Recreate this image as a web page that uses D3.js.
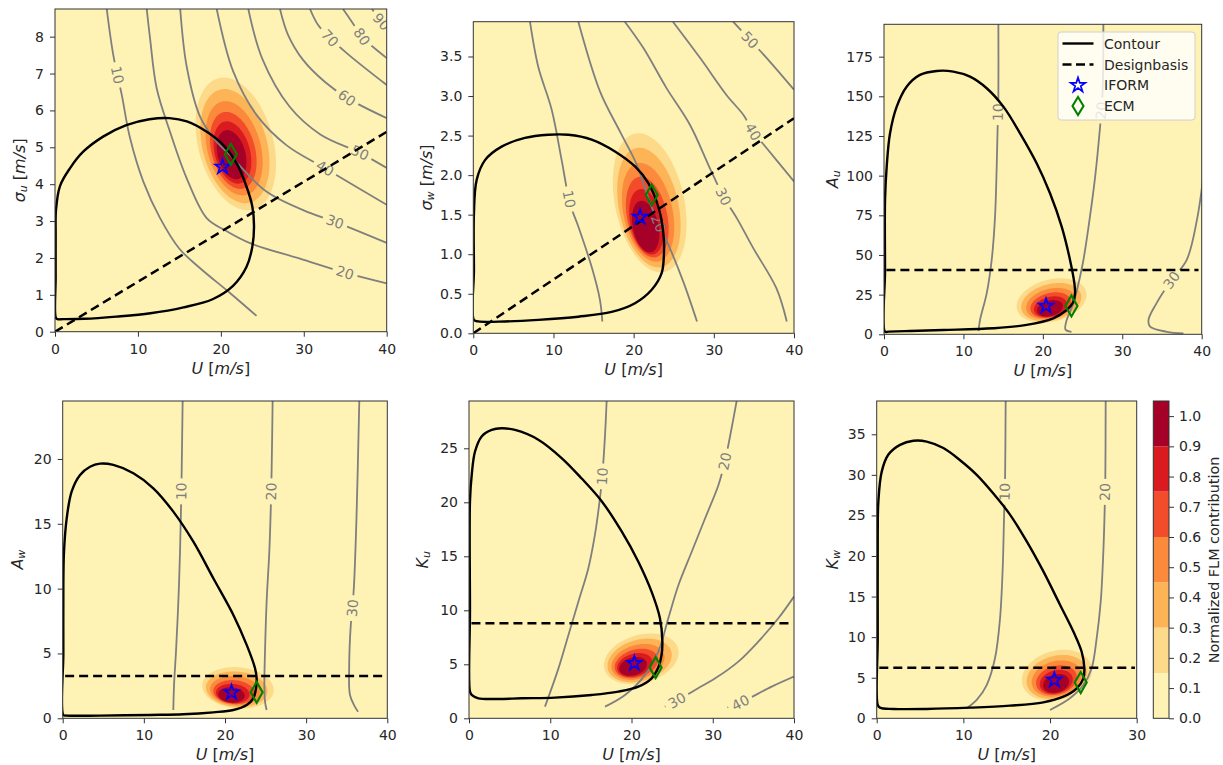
<!DOCTYPE html>
<html><head><meta charset="utf-8">
<script src="https://cdn.jsdelivr.net/npm/d3@7"></script>
<style>
body{margin:0;background:#fff}
text{font-family:"DejaVu Sans",sans-serif}
</style></head>
<body><svg id="c" width="1223" height="765"></svg>
<script>
// ---------------- DATA ----------------
const flmBounds = [0, 0.15, 0.3, 0.45, 0.6, 0.75, 0.9, 1.05];
const flmColors = ["#fef3b5", "#fdd98a", "#fdb456", "#fc8a3c", "#f24c2a", "#d91b20", "#a50027"];
const flmScale = [1, 0.86, 0.71, 0.58, 0.47, 0.37];   // relative size of each filled level
const cbTicks = [0, 0.1, 0.2, 0.3, 0.4, 0.5, 0.6, 0.7, 0.8, 0.9, 1.0];

const xTicks40 = [0, 10, 20, 30, 40];
const xTicks30 = [0, 10, 20, 30];
const yTicksSigU = [0, 1, 2, 3, 4, 5, 6, 7, 8];
const yTicksSigW = [0, 0.5, 1.0, 1.5, 2.0, 2.5, 3.0, 3.5];
const yTicksAu = [0, 25, 50, 75, 100, 125, 150, 175];
const yTicksAw = [0, 5, 10, 15, 20];
const yTicksKu = [0, 5, 10, 15, 20, 25];
const yTicksKw = [0, 5, 10, 15, 20, 25, 30, 35];

const legendLabels = ["Contour", "Designbasis", "IFORM", "ECM"];

// environmental contours [U, param]
const contourSigU = [[0.1,0.38],[0.08,1.5],[0.08,2.6],[0.12,3.3],[0.6,3.95],[1.8,4.43],[3.4,4.88],[5.8,5.29],[8.6,5.6],[11.4,5.76],[13.8,5.79],[15.9,5.70],[18.3,5.42],[20.3,5.06],[21.9,4.57],[23.1,3.93],[23.8,3.39],[24.0,2.85],[23.8,2.31],[23.1,1.76],[21.5,1.25],[19.0,0.88],[15.5,0.66],[11.5,0.5],[7.4,0.41],[3.5,0.35],[1.0,0.34],[0.3,0.34]];
const contourSigW = [[0.08,0.17],[0.08,0.8],[0.08,1.52],[0.42,1.94],[1.46,2.19],[3.53,2.36],[6.44,2.47],[9.36,2.51],[11.85,2.51],[14.76,2.45],[17.67,2.30],[20.17,2.11],[21.83,1.90],[23.08,1.60],[23.7,1.27],[23.78,1.01],[23.49,0.76],[22.25,0.55],[20.17,0.38],[17.26,0.27],[13.1,0.21],[8.1,0.17],[3.95,0.15],[0.62,0.15]];
const contourAu = [[0.13,1.7],[0.13,40],[0.13,84.7],[0.34,105.7],[0.76,126.7],[1.6,143.5],[2.85,156.1],[4.53,163.5],[6.63,166],[8.73,165.6],[10.83,162.4],[12.93,155.1],[15.03,143.5],[17.13,126.7],[19.22,107.8],[20.9,88.9],[22.37,67.9],[23.42,46.9],[23.97,32.1],[24.05,25.8],[23.8,20],[23.0,15.3],[21.3,10.1],[17.96,5.9],[13.77,3.8],[7.47,2.7],[3.27,2.1],[0.6,1.7]];
const contourAw = [[0.08,0.26],[0.08,5],[0.08,10.3],[0.16,12.85],[0.49,15.4],[1.11,17.5],[2.14,18.77],[3.37,19.4],[4.6,19.64],[6.24,19.54],[8.71,18.9],[11.17,17.74],[13.63,15.94],[16.1,13.62],[18.56,10.8],[21.03,7.97],[22.67,5.66],[23.7,3.86],[23.9,3.08],[23.82,2.31],[23.49,1.54],[22.67,1.03],[21.03,0.64],[18.56,0.46],[14.87,0.31],[10.76,0.26],[4.6,0.21],[0.49,0.21]];
const contourKu = [[0.12,2.47],[0.12,10],[0.12,20.1],[0.33,22.5],[0.74,24.7],[1.56,26.1],[2.79,26.7],[4.0,26.85],[5.66,26.7],[8.53,25.8],[11.4,24.1],[13.87,22.2],[16.33,20.1],[18.79,17.3],[20.84,14.5],[22.48,11.7],[23.5,9.26],[23.8,7.1],[23.7,5.86],[23.3,4.7],[22.48,3.7],[20.84,2.93],[18.38,2.47],[15.1,2.16],[10.58,1.91],[6.48,1.85],[3.6,1.79],[1.15,1.85],[0.33,2.16]];
const contourKw = [[0.12,1.64],[0.12,10],[0.12,22.6],[0.19,26.7],[0.58,30.4],[1.35,32.5],[2.69,33.7],[4.23,34.2],[5.77,34.1],[7.69,33.3],[9.62,31.8],[11.54,30.0],[13.46,27.7],[15.38,25.1],[17.31,21.8],[19.23,18.1],[21.15,14.0],[22.69,10.7],[23.65,8.2],[23.96,6.16],[23.85,4.93],[23.08,3.7],[21.54,2.67],[19.23,1.97],[15.38,1.56],[10.77,1.31],[5.77,1.15],[1.92,1.15],[0.38,1.31]];

// design basis lines
const designSigU = [[0, 0], [40, 5.42]];
const designSigW = [[0, 0], [40, 2.72]];
const designAu = [[0.3, 40.6], [39.6, 40.6]];
const designAw = [[0.3, 3.26], [39.6, 3.26]];
const designKu = [[0.3, 8.8], [39.6, 8.8]];
const designKw = [[0.3, 6.24], [29.8, 6.24]];

// IFORM and ECM design points (panels in order)
const iformPts = [[20.2, 4.47], [20.8, 1.47], [20.4, 17.9], [20.8, 2.0], [20.35, 5.1], [20.5, 4.72]];
const ecmPts = [[21.2, 4.81], [22.25, 1.75], [23.6, 17.9], [23.9, 2.0], [22.97, 4.7], [23.54, 4.4]];

// FLM contribution blobs: outer [U, y, halfU, halfY, tilt], core [U, y]
const flmSigU = {outer: [21.8, 5.09, 4.85, 1.8, -0.3], core: [21.3, 4.8]};
const flmSigW = {outer: [22.0, 1.65, 4.6, 0.88, -0.3], core: [21.5, 1.35]};
const flmAu = {outer: [21.1, 21.3, 4.4, 14, 0.26], core: [20.9, 16.4]};
const flmAw = {outer: [21.6, 2.35, 4.4, 1.6, -0.1], core: [20.8, 1.8]};
const flmKu = {outer: [21.2, 5.5, 4.6, 2.35, 0.25], core: [20.2, 4.8]};
const flmKw = {outer: [20.8, 5.3, 4.05, 3.15, 0.2], core: [20.7, 4.3]};

// response iso-lines
const isoSigU = [
 {level:10, at:[7.44,6.96], pts:[[6.24,8.75],[7.03,7.50],[8.05,6.42],[9.05,5.25],[10.65,4.07],[12.67,3.08],[15.0,2.25],[17.5,1.72],[21.1,1.05],[24.3,0.43]]},
 {level:20, at:[34.97,1.6], pts:[[11.06,8.75],[11.46,7.96],[12.26,6.6],[13.87,5.42],[15.88,4.16],[18.29,3.08],[20.5,2.75],[23.52,2.4],[29.54,1.98],[34.97,1.6],[40,1.31]]},
 {level:30, at:[33.77,2.98], pts:[[15.1,8.75],[15.88,7.19],[17.49,5.83],[19.3,5.2],[21.1,4.79],[25.5,3.8],[30.75,3.22],[33.77,2.98],[40,2.41]]},
 {level:40, at:[32.56,4.43], pts:[[19.5,8.75],[21.5,7.05],[24.3,5.88],[27.9,5.06],[32.56,4.43],[40,3.44]]},
 {level:50, at:[36.78,4.85], pts:[[23.31,8.75],[25.0,7.4],[28.3,6.1],[32.0,5.35],[36.78,4.85],[40,4.44]]},
 {level:60, at:[35.17,6.33], pts:[[27.13,8.75],[28.1,8.05],[29.91,7.37],[32.56,6.77],[35.21,6.34],[40,5.79]]},
 {level:70, at:[33.16,7.96], pts:[[30.75,8.75],[31.71,8.32],[33.16,7.96],[35.57,7.48],[40,6.69]]},
 {level:80, at:[37.0,8.0], pts:[[34.73,8.75],[35.81,8.4],[37.02,8.0],[40,7.42]]},
 {level:90, at:[39.4,8.41], pts:[[38.23,8.75],[39.19,8.45],[40,8.24]]}
];
const isoSigW = [
 {level:10, at:[12.06,1.7], pts:[[7.07,3.94],[8.1,3.37],[9.77,2.83],[11.02,2.19],[12.06,1.64],[13.1,1.35],[14.76,0.84],[15.8,0.42],[16.09,0.15]]},
 {level:20, at:[23.1,1.39], pts:[[13.1,3.94],[15.8,3.06],[18.3,2.55],[20.4,2.13],[22.0,1.66],[23.1,1.39],[24.5,1.08],[26.2,0.65],[27.9,0.15]]},
 {level:30, at:[31.2,1.73], pts:[[18.9,3.94],[21.2,3.61],[24.1,3.10],[27.0,2.64],[29.5,2.09],[31.2,1.73],[32.9,1.45],[34.9,1.08],[37.8,0.57],[39.1,0.15]]},
 {level:40, at:[34.9,2.55], pts:[[24.9,3.94],[28.3,3.48],[31.6,3.01],[33.7,2.76],[34.9,2.55],[36.6,2.34],[40,1.92]]},
 {level:50, at:[34.5,3.71], pts:[[32.4,3.94],[34.5,3.71],[36.6,3.48],[40,3.08]]}
];
const isoAu = [
 {level:10, at:[14.4,140], pts:[[14.4,195.4],[14.4,149.8],[14.31,130.9],[14.19,105.7],[13.98,74.2],[13.56,46.9],[12.93,25.8],[12.09,9.0],[11.9,2.0]]},
 {level:20, at:[27.4,141], pts:[[27.62,195.4],[27.5,150],[27.1,125],[26.6,100],[25.9,73],[25.0,44],[23.8,19],[23.0,9],[22.85,3],[23.6,1.5]]},
 {level:30, at:[36.2,34.2], pts:[[40.2,99.4],[39.4,72.1],[38.1,46.8],[36.2,34.2],[34.3,19.5],[33.3,9.0],[33.5,4.8],[35.6,1.6],[37.7,0.6]]}
];
const isoAw = [
 {level:10, at:[14.62,17.5], pts:[[14.78,24.47],[14.66,19.0],[14.58,16.2],[14.46,12.85],[14.25,9.0],[13.96,5.14],[13.72,2.57],[13.63,0.64]]},
 {level:20, at:[25.7,17.5], pts:[[25.87,24.47],[25.75,19.28],[25.63,15.94],[25.46,12.85],[25.13,9.0],[24.93,5.14],[24.85,2.57],[24.93,1.29],[25.13,0.64]]},
 {level:30, at:[35.7,8.5], pts:[[36.55,24.47],[36.2,15.4],[35.9,10.3],[35.7,8.5],[35.5,7.2],[35.3,3.86],[35.4,1.8],[36.0,0.9],[36.4,0.5]]}
];
const isoKu = [
 {level:10, at:[16.4,22.4], pts:[[16.94,29.38],[16.74,26.2],[16.4,22.4],[16.12,20.4],[15.5,17.0],[14.69,13.9],[13.46,10.8],[12.23,7.7],[11.0,4.6],[9.35,1.08]]},
 {level:20, at:[31.5,23.8], pts:[[32.94,29.38],[32.33,26.9],[31.5,23.8],[30.7,21.6],[29.05,18.5],[27.4,15.4],[25.76,12.3],[24.53,9.26],[23.3,6.17],[21.66,4.0],[19.2,2.16],[16.74,1.08]]},
 {level:30, at:[25.6,1.65], pts:[[40,11.27],[38.07,9.26],[35.6,7.1],[33.15,5.25],[30.3,3.7],[28.2,2.78],[25.6,1.65],[24.1,1.08]]},
 {level:40, at:[33.4,1.45], pts:[[40,3.86],[37.25,2.93],[33.4,1.45],[31.8,1.0]]}
];
const isoKw = [
 {level:10, at:[14.8,27.9], pts:[[14.88,39.1],[14.81,29.2],[14.75,27.0],[14.69,24.65],[14.54,18.5],[14.23,12.3],[13.65,7.4],[12.69,4.1],[11.54,2.26],[10.38,1.23]]},
 {level:20, at:[26.4,27.9], pts:[[26.42,39.1],[26.38,29.6],[26.3,25.5],[26.15,20.5],[25.85,14.4],[25.38,9.86],[24.8,6.16],[23.85,4.1],[22.3,2.47],[20.0,1.03]]}
];

// ---------------- LAYOUT ----------------
const W = 1223, H = 765;
const panels = [
 {box:[55,386.7,9,331.7], xMax:40, yMax:8.75, xt:xTicks40, yt:yTicksSigU, yf:"d", sym:"σ", sub:"u", unit:true, ylx:19,
  contour:contourSigU, design:designSigU, flm:flmSigU, iso:isoSigU},
 {box:[473.3,794,21.7,333.3], xMax:40, yMax:3.94, xt:xTicks40, yt:yTicksSigW, yf:".1f", sym:"σ", sub:"w", unit:true, ylx:426,
  contour:contourSigW, design:designSigW, flm:flmSigW, iso:isoSigW},
 {box:[884,1201.7,24.3,334.3], xMax:40, yMax:195.4, xt:xTicks40, yt:yTicksAu, yf:"d", sym:"A", sub:"u", unit:false, ylx:832,
  contour:contourAu, design:designAu, flm:flmAu, iso:isoAu},
 {box:[62.7,387.3,401,718.3], xMax:40, yMax:24.47, xt:xTicks40, yt:yTicksAw, yf:"d", sym:"A", sub:"w", unit:false, ylx:17,
  contour:contourAw, design:designAw, flm:flmAw, iso:isoAw},
 {box:[469,794,401,718.3], xMax:40, yMax:29.38, xt:xTicks40, yt:yTicksKu, yf:"d", sym:"K", sub:"u", unit:false, ylx:422,
  contour:contourKu, design:designKu, flm:flmKu, iso:isoKu},
 {box:[876.7,1136.7,401,718.3], xMax:30, yMax:39.1, xt:xTicks30, yt:yTicksKw, yf:"d", sym:"K", sub:"w", unit:false, ylx:832,
  contour:contourKw, design:designKw, flm:flmKw, iso:isoKw}
];

const svg = d3.select("#c");
const defs = svg.append("defs");
const TXT = "#262626", SPINE = "#333";
const DASH = "9,5";

const starPath = d3.symbol(d3.symbolStar, 66)();
function diamondPath(w, h){ return `M0,${-h}L${w},0L0,${h}L${-w},0Z`; }

function styleAxis(g){
  g.select(".domain").remove();
  g.selectAll("line").attr("stroke", SPINE).attr("stroke-width", 1);
  g.selectAll("text").attr("fill", TXT).attr("font-size", 14).attr("font-family", "DejaVu Sans");
}

panels.forEach((P, idx) => {
  const [x0, x1, y0, y1] = P.box;
  const x = d3.scaleLinear().domain([0, P.xMax]).range([x0, x1]);
  const y = d3.scaleLinear().domain([0, P.yMax]).range([y1, y0]);
  const line = d3.line().x(d => x(d[0])).y(d => y(d[1]));

  defs.append("clipPath").attr("id", "clip" + idx).append("rect")
    .attr("x", x0).attr("y", y0).attr("width", x1 - x0).attr("height", y1 - y0);
  const g = svg.append("g").attr("clip-path", `url(#clip${idx})`);

  // background = lowest FLM level
  g.append("rect").attr("x", x0).attr("y", y0).attr("width", x1 - x0).attr("height", y1 - y0).attr("fill", flmColors[0]);

  // FLM filled levels
  const [cu, cv, ru, rv, rho] = P.flm.outer, [ku, kv] = P.flm.core;
  flmScale.forEach((s, i) => {
    const f = i / (flmScale.length - 1);
    const mu = cu + (ku - cu) * f, mv = cv + (kv - cv) * f;
    const pts = d3.range(96).map(k => {
      const t = k / 96 * 2 * Math.PI;
      return [mu + ru * s * Math.cos(t), mv + rv * s * (rho * Math.cos(t) + Math.sqrt(1 - rho * rho) * Math.sin(t))];
    });
    g.append("path").attr("d", line.curve(d3.curveLinearClosed)(pts)).attr("fill", flmColors[i + 1]);
  });

  // iso-lines with inline labels
  const mask = defs.append("mask").attr("id", "mask" + idx).attr("maskUnits", "userSpaceOnUse")
    .attr("x", 0).attr("y", 0).attr("width", W).attr("height", H);
  mask.append("rect").attr("width", W).attr("height", H).attr("fill", "white");
  const isoG = g.append("g");
  const linesG = isoG.append("g").attr("mask", `url(#mask${idx})`);
  P.iso.forEach(l => {
    linesG.append("path").attr("d", line.curve(d3.curveCatmullRom.alpha(0.5))(l.pts))
      .attr("fill", "none").attr("stroke", "#7f7f7f").attr("stroke-width", 1.8);
    const lx = x(l.at[0]), ly = y(l.at[1]);
    let best = Infinity, px = lx, py = ly, ang = 0;
    for (let i = 0; i < l.pts.length - 1; i++) {
      const ax = x(l.pts[i][0]), ay = y(l.pts[i][1]), bx = x(l.pts[i + 1][0]), by = y(l.pts[i + 1][1]);
      const dx = bx - ax, dy = by - ay, L2 = dx * dx + dy * dy || 1;
      let t = ((lx - ax) * dx + (ly - ay) * dy) / L2; t = Math.max(0, Math.min(1, t));
      const qx = ax + t * dx, qy = ay + t * dy, d2 = (qx - lx) ** 2 + (qy - ly) ** 2;
      if (d2 < best) { best = d2; px = qx; py = qy; ang = Math.atan2(dy, dx) * 180 / Math.PI; }
    }
    if (ang > 90) ang -= 180; if (ang <= -90) ang += 180;
    const tr = `translate(${px},${py}) rotate(${ang})`;
    const t = isoG.append("text").attr("transform", tr).attr("text-anchor", "middle")
      .attr("dominant-baseline", "central").attr("font-size", 14).attr("fill", "#7f7f7f").text(l.level);
    const w = t.node().getComputedTextLength();
    mask.append("rect").attr("x", -w / 2 - 4).attr("y", -7).attr("width", w + 8).attr("height", 14)
      .attr("transform", tr).attr("fill", "black");
  });

  // environmental contour
  g.append("path").attr("d", line.curve(d3.curveCatmullRomClosed.alpha(0.5))(P.contour))
    .attr("fill", "none").attr("stroke", "#000").attr("stroke-width", 2.4);
  // design basis
  g.append("path").attr("d", line.curve(d3.curveLinear)(P.design))
    .attr("fill", "none").attr("stroke", "#000").attr("stroke-width", 2.5).attr("stroke-dasharray", DASH);

  // markers
  const ip = iformPts[idx], ep = ecmPts[idx];
  svg.append("path").attr("d", starPath).attr("transform", `translate(${x(ip[0])},${y(ip[1])})`)
    .attr("fill", "none").attr("stroke", "#0000ff").attr("stroke-width", 1.7);
  svg.append("path").attr("d", diamondPath(6, 10.5)).attr("transform", `translate(${x(ep[0])},${y(ep[1])})`)
    .attr("fill", "none").attr("stroke", "#008000").attr("stroke-width", 2.1);

  // axes
  const xa = svg.append("g").attr("transform", `translate(0,${y1})`)
    .call(d3.axisBottom(x).tickValues(P.xt).tickSize(5).tickPadding(7).tickFormat(d3.format("d")));
  styleAxis(xa);
  const ya = svg.append("g").attr("transform", `translate(${x0},0)`)
    .call(d3.axisLeft(y).tickValues(P.yt).tickSize(5).tickPadding(6).tickFormat(d3.format(P.yf)));
  styleAxis(ya);
  svg.append("rect").attr("x", x0).attr("y", y0).attr("width", x1 - x0).attr("height", y1 - y0)
    .attr("fill", "none").attr("stroke", SPINE).attr("stroke-width", 1);

  // x label: U [m/s]
  const xl = svg.append("text").attr("x", (x0 + x1) / 2).attr("y", y1 + 42).attr("text-anchor", "middle")
    .attr("font-size", 16).attr("fill", TXT);
  xl.append("tspan").attr("font-style", "italic").text("U");
  xl.append("tspan").text(" [");
  xl.append("tspan").attr("font-style", "italic").text("m/s");
  xl.append("tspan").text("]");

  // y label
  const yl = svg.append("text").attr("transform", `translate(${P.ylx},${(y0 + y1) / 2}) rotate(-90)`)
    .attr("text-anchor", "middle").attr("dominant-baseline", "central").attr("font-size", 16).attr("fill", TXT);
  yl.append("tspan").attr("font-style", "italic").text(P.sym);
  yl.append("tspan").attr("font-style", "italic").attr("font-size", 11).attr("dy", 3.5).text(P.sub);
  if (P.unit) {
    yl.append("tspan").attr("dy", -3.5).text(" [");
    yl.append("tspan").attr("font-style", "italic").text("m/s");
    yl.append("tspan").text("]");
  }
});

// ---------------- LEGEND (panel 3) ----------------
const lg = svg.append("g");
lg.append("rect").attr("x", 1058).attr("y", 32).attr("width", 137).attr("height", 88).attr("rx", 3)
  .attr("fill", "#fff").attr("fill-opacity", 0.8).attr("stroke", "#d0d0d0").attr("stroke-width", 1);
const lgY = [43.5, 64.5, 85.2, 106];
lg.append("line").attr("x1", 1062.5).attr("x2", 1093.5).attr("y1", lgY[0]).attr("y2", lgY[0]).attr("stroke", "#000").attr("stroke-width", 2.4);
lg.append("line").attr("x1", 1062.5).attr("x2", 1093.5).attr("y1", lgY[1]).attr("y2", lgY[1]).attr("stroke", "#000").attr("stroke-width", 2.5).attr("stroke-dasharray", "9,4.5");
lg.append("path").attr("d", starPath).attr("transform", `translate(1078,${lgY[2]})`).attr("fill", "none").attr("stroke", "#0000ff").attr("stroke-width", 1.7);
lg.append("path").attr("d", diamondPath(5.5, 9)).attr("transform", `translate(1078,${lgY[3]})`).attr("fill", "none").attr("stroke", "#008000").attr("stroke-width", 2.1);
legendLabels.forEach((t, i) => {
  lg.append("text").attr("x", 1104).attr("y", lgY[i]).attr("dominant-baseline", "central")
    .attr("font-size", 14).attr("fill", TXT).text(t);
});

// ---------------- COLORBAR ----------------
const cbx0 = 1153.3, cbx1 = 1169, cby0 = 401, cby1 = 718.3;
const cy = d3.scaleLinear().domain([0, 1.05]).range([cby1, cby0]);
flmColors.forEach((c, i) => {
  svg.append("rect").attr("x", cbx0).attr("width", cbx1 - cbx0)
    .attr("y", cy(flmBounds[i + 1])).attr("height", cy(flmBounds[i]) - cy(flmBounds[i + 1])).attr("fill", c);
});
svg.append("rect").attr("x", cbx0).attr("y", cby0).attr("width", cbx1 - cbx0).attr("height", cby1 - cby0)
  .attr("fill", "none").attr("stroke", SPINE).attr("stroke-width", 1);
const ca = svg.append("g").attr("transform", `translate(${cbx1},0)`)
  .call(d3.axisRight(cy).tickValues(cbTicks).tickSize(5).tickPadding(5).tickFormat(d3.format(".1f")));
styleAxis(ca);
svg.append("text").attr("transform", `translate(1214,560) rotate(-90)`).attr("text-anchor", "middle")
  .attr("dominant-baseline", "central").attr("font-size", 14.4).attr("fill", TXT).text("Normalized FLM contribution");
</script>
</body></html>
